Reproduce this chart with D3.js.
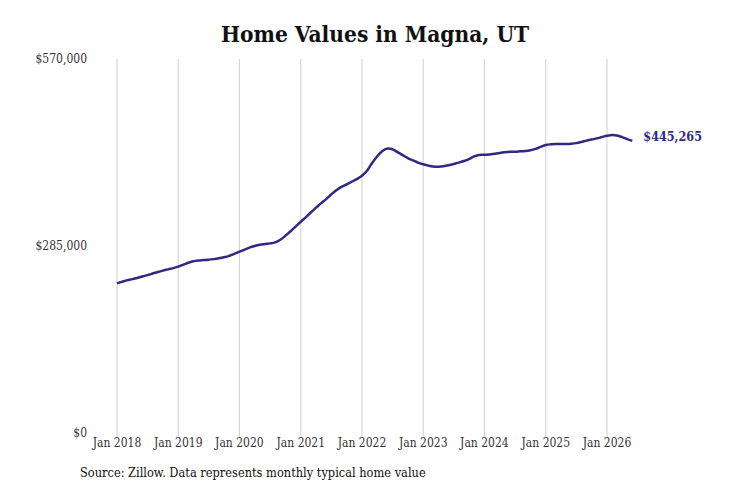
<!DOCTYPE html>
<html>
<head>
<meta charset="utf-8">
<script src="https://cdn.jsdelivr.net/npm/d3@7"></script>
<style>
body { margin: 0; background: #fff; }
</style>
</head>
<body>
<script>
// chart data
var startYear = 2018 ;
var homeValues2018 = [228200, 230500, 232600, 234500, 236300, 238400, 240600, 243000, 245400, 247500, 249400, 251300] ;
var homeValues2019 = [253500, 256500, 259500, 261800, 263000, 263600, 264200, 265000, 266200, 267800, 270000, 273000] ;
var homeValues2020 = [276300, 279500, 282600, 285000, 286800, 288000, 289000, 290500, 294500, 300500, 307500, 314500] ;
var homeValues2021 = [322000, 329000, 336000, 343000, 350000, 356500, 363500, 370000, 375000, 379000, 383000, 387000] ;
var homeValues2022 = [392000, 400000, 411000, 421500, 429500, 433500, 432500, 428000, 423500, 419000, 415500, 412000] ;
var homeValues2023 = [409500, 407500, 406200, 405900, 406500, 408000, 410000, 412000, 414500, 417500, 421500, 423800] ;
var homeValues2024 = [424000, 424300, 425500, 426800, 427800, 428500, 428800, 429300, 429800, 431000, 433000, 436000] ;
var homeValues2025 = [438800, 440000, 440400, 440500, 440600, 441000, 441800, 443500, 445600, 447300, 449000, 451000] ;
var homeValues2026 = [453000, 454200, 453500, 451000, 448000, 445265] ;

var yTicks = [0, 285000, 570000] ;
var xTickYears = [2018, 2019, 2020, 2021, 2022, 2023, 2024, 2025, 2026] ;
var titleText = "Home Values in Magna, UT" ;
var sourceText = "Source: Zillow. Data represents monthly typical home value" ;

var allValues = [].concat(homeValues2018, homeValues2019, homeValues2020, homeValues2021,
    homeValues2022, homeValues2023, homeValues2024, homeValues2025, homeValues2026) ;

var data = allValues.map(function(v, i) {
    return { date: new Date(startYear, i, 1), value: v } ;
}) ;

var width = 731, height = 487 ;
var margin = { top: 59, right: 98, bottom: 54, left: 117 } ;
var serif = "'DejaVu Serif Condensed', 'DejaVu Serif', serif" ;
var lineColor = "#2e2a82" ;

var svg = d3.select("body").append("svg")
    .attr("width", width)
    .attr("height", height) ;

var x = d3.scaleTime()
    .domain([new Date(2018, 0, 1), new Date(2026, 0, 1)])
    .range([margin.left, 607]) ;

var y = d3.scaleLinear()
    .domain([0, 570000])
    .range([height - margin.bottom, margin.top]) ;

// title
svg.append("text")
    .attr("x", 375)
    .attr("y", 42)
    .attr("text-anchor", "middle")
    .attr("font-family", serif)
    .attr("font-weight", "bold")
    .attr("font-size", "22.5px")
    .attr("fill", "#111")
    .text(titleText) ;

// vertical grid lines
svg.append("g")
    .selectAll("line")
    .data(xTickYears)
    .enter().append("line")
    .attr("x1", function(d) { return x(new Date(d, 0, 1)) ; })
    .attr("x2", function(d) { return x(new Date(d, 0, 1)) ; })
    .attr("y1", y(570000))
    .attr("y2", y(0) + 4)
    .attr("stroke", "#cfcfcf")
    .attr("stroke-width", 1) ;

// x labels
svg.append("g")
    .selectAll("text")
    .data(xTickYears)
    .enter().append("text")
    .attr("x", function(d) { return x(new Date(d, 0, 1)) ; })
    .attr("y", 446.5)
    .attr("text-anchor", "middle")
    .attr("font-family", serif)
    .attr("font-size", "12px")
    .attr("fill", "#333")
    .text(function(d) { return "Jan " + d ; }) ;

// y labels
var fmt = d3.format(",") ;
svg.append("g")
    .selectAll("text")
    .data(yTicks)
    .enter().append("text")
    .attr("x", 87)
    .attr("y", function(d) { return y(d) ; })
    .attr("dy", "0.35em")
    .attr("text-anchor", "end")
    .attr("font-family", serif)
    .attr("font-size", "12px")
    .attr("fill", "#333")
    .text(function(d) { return "$" + fmt(d) ; }) ;

// the line
var line = d3.line()
    .x(function(d) { return x(d.date) ; })
    .y(function(d) { return y(d.value) ; })
    .curve(d3.curveCatmullRom.alpha(0.5)) ;

svg.append("path")
    .datum(data)
    .attr("d", line)
    .attr("fill", "none")
    .attr("stroke", lineColor)
    .attr("stroke-width", 2.5)
    .attr("stroke-linejoin", "round") ;

// end value label
var last = data[data.length - 1] ;
svg.append("text")
    .attr("x", x(last.date) + 11)
    .attr("y", y(last.value) - 4)
    .attr("dy", "0.35em")
    .attr("font-family", serif)
    .attr("font-weight", "bold")
    .attr("font-size", "12.5px")
    .attr("fill", lineColor)
    .text("$" + fmt(last.value)) ;

// source note
svg.append("text")
    .attr("x", 80)
    .attr("y", 476.5)
    .attr("font-family", serif)
    .attr("font-size", "12.7px")
    .attr("fill", "#111")
    .text(sourceText) ;
</script>
</body>
</html>
